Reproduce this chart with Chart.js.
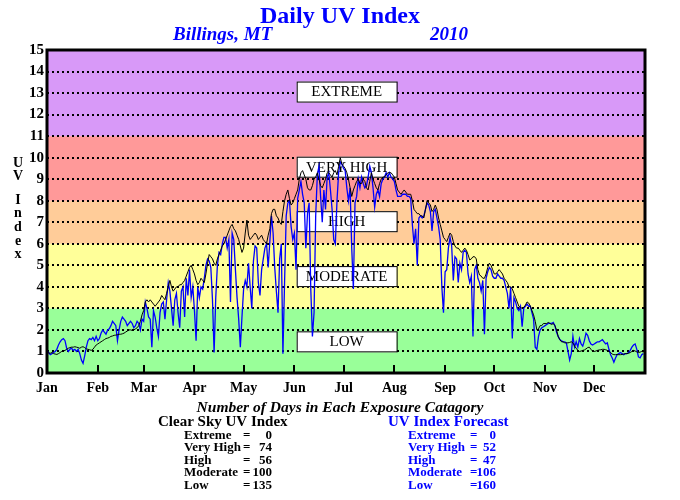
<!DOCTYPE html>
<html>
<head>
<meta charset="utf-8">
<title>Daily UV Index</title>
<script src="https://cdn.jsdelivr.net/npm/chart.js@4.4.1/dist/chart.umd.min.js"></script>
<style>
  html, body { margin: 0; padding: 0; background: #fff; }
  #wrap { width: 680px; height: 500px; }
</style>
</head>
<body>
<div id="wrap"><canvas id="uvChart" width="680" height="500"></canvas></div>
<script>
// month names + day of year where each month starts
const months = ['Jan','Feb','Mar','Apr','May','Jun','Jul','Aug','Sep','Oct','Nov','Dec'];
const monthStarts = [0,31,59,90,120,151,181,212,243,273,304,334];
const yTicks = [0,1,2,3,4,5,6,7,8,9,10,11,12,13,14,15];

// exposure categories (low -> extreme) and their limits on the UV scale
const bandLimits = [0,3,6,8,11,15];
const bandNames = ['LOW','MODERATE','HIGH','VERY HIGH','EXTREME'];

// day counts per category, listed Extreme .. Low as in the table
const countLabels = ['Extreme','Very High','High','Moderate','Low'];
const clearCounts = [0,74,56,100,135];
const forecastCounts = [0,52,47,106,160];

// clear sky UV index, one value per day
const clearSky = [
  // Jan
  0.95,0.93,0.92,0.95,0.9,0.88,0.86,0.9,0.95,1.0,1.02,1.05,1.1,1.15,1.18,1.2,1.2,1.22,1.2,1.18,1.15,1.2,1.22,1.18,1.12,1.1,1.08,1.05,1.1,1.2,1.3,
  // Feb
  1.35,1.4,1.45,1.5,1.55,1.6,1.62,1.65,1.7,1.72,1.75,1.76,1.78,1.8,1.8,1.82,1.85,1.9,1.95,2.0,2.0,1.98,2.0,2.05,2.1,2.2,2.4,2.7,
  // Mar
  2.9,3.3,3.4,3.3,3.4,3.3,3.2,3.1,3.2,3.3,3.4,3.6,3.5,3.4,3.7,4.0,4.3,4.0,3.8,3.9,4.0,4.0,4.1,4.1,4.2,4.3,4.5,4.7,4.9,5.0,4.8,
  // Apr
  4.6,4.3,4.1,4.2,4.4,4.3,4.2,4.6,5.1,5.5,5.4,5.3,5.1,5.0,5.3,5.5,5.7,5.9,6.0,6.2,6.4,6.6,6.8,6.9,6.7,6.6,6.4,6.2,5.9,5.6,
  // May
  5.8,6.5,7.1,6.4,6.2,6.3,6.4,6.5,6.4,6.2,6.3,6.4,6.2,6.1,6.0,6.4,6.7,7.4,7.6,7.6,7.3,7.2,7.0,6.9,7.5,8.0,8.3,8.5,8.1,7.8,7.9,
  // Jun
  8.1,8.3,8.5,9.0,9.3,9.4,9.2,9.0,8.6,8.5,8.5,8.7,9.0,9.1,9.3,9.0,8.7,8.6,8.8,9.0,9.3,9.3,9.2,9.1,9.3,9.4,9.2,9.6,10.0,9.7,
  // Jul
  9.6,9.5,9.3,9.0,8.6,8.2,8.5,8.7,8.9,9.0,8.8,8.8,9.0,8.9,8.6,8.5,8.9,9.3,9.0,8.8,8.6,8.5,8.8,9.0,9.1,9.1,9.2,9.3,9.3,9.3,9.2,
  // Aug
  9.1,8.8,8.5,8.4,8.3,8.4,8.5,8.4,8.3,8.3,8.3,8.0,7.6,7.5,7.4,7.4,7.3,7.3,7.2,7.6,8.0,7.9,7.8,7.5,7.6,7.8,7.6,7.2,6.9,6.6,6.3,
  // Sep
  6.2,6.1,6.3,6.5,6.4,6.1,5.9,5.8,5.8,5.7,5.6,5.7,5.8,5.7,5.5,5.25,5.3,5.4,5.4,5.3,4.8,4.55,4.5,4.4,4.4,4.6,4.9,5.1,5.0,4.8,
  // Oct
  4.6,4.6,4.7,4.8,4.7,4.6,4.4,4.3,4.2,4.0,4.0,3.9,3.7,3.5,3.3,3.1,3.05,3.0,3.05,3.15,3.3,3.25,3.1,2.9,2.7,2.4,2.0,2.05,2.2,2.2,2.3,
  // Nov
  2.3,2.3,2.35,2.3,2.25,2.3,2.2,2.0,1.7,1.55,1.45,1.45,1.4,1.4,1.4,1.42,1.45,1.4,1.25,1.15,1.05,1.0,1.02,1.05,1.07,1.12,1.18,1.2,1.1,1.02,
  // Dec
  1.0,1.02,1.05,1.07,1.08,1.1,1.1,1.08,1.05,1.0,0.95,0.88,0.85,0.85,0.86,0.85,0.85,0.86,0.88,0.9,0.9,0.92,0.95,1.0,1.05,1.02,0.98,0.95,0.97,1.0,0.98
];

// UV index forecast, one value per day
const forecast = [
  // Jan
  1.05,0.95,0.85,0.9,0.95,1.0,1.1,1.3,1.45,1.55,1.6,1.5,1.15,1.0,1.1,1.15,1.05,1.1,1.0,1.1,0.9,0.6,0.45,0.8,1.2,1.5,1.6,1.55,1.65,1.5,1.7,
  // Feb
  1.5,1.6,1.85,2.0,1.9,1.8,2.0,2.05,2.2,2.4,2.3,2.2,1.5,2.0,2.4,2.6,2.5,2.4,2.2,2.3,2.4,2.3,2.1,2.2,2.4,2.3,2.0,2.5,
  // Mar
  2.4,3.3,3.0,2.6,2.5,1.2,2.9,2.6,2.1,1.7,2.8,3.2,3.3,2.5,3.4,4.2,3.8,3.0,2.2,3.4,3.7,2.8,2.1,3.8,4.0,2.6,4.4,3.6,4.8,3.5,4.0,
  // Apr
  2.9,1.5,4.0,3.5,4.0,3.9,4.4,5.0,5.3,5.2,4.9,3.4,0.95,3.5,5.0,5.6,5.5,6.0,6.3,6.3,5.8,6.2,3.3,6.5,6.2,4.8,3.5,2.5,1.2,2.6,
  // May
  3.9,4.3,4.0,5.1,4.0,3.0,5.2,5.9,5.8,4.2,3.6,4.8,5.3,5.8,6.0,4.9,6.1,7.3,6.5,4.9,3.8,2.8,5.3,6.0,0.9,4.2,7.3,7.9,8.0,6.8,6.2,
  // Jun
  6.5,4.8,8.1,8.5,8.9,8.3,7.9,5.8,7.4,7.9,3.9,1.7,2.8,7.3,9.2,9.6,8.2,7.0,8.5,7.6,9.1,9.3,8.5,7.6,6.2,6.0,8.0,9.3,9.8,9.7,
  // Jul
  9.5,9.4,8.6,8.0,8.6,5.8,3.9,7.9,8.2,9.0,8.6,9.1,8.8,8.6,8.7,9.1,9.6,9.3,8.6,7.7,8.3,8.5,8.2,8.8,9.0,9.1,9.3,9.1,9.3,9.1,9.0,
  // Aug
  8.9,8.5,8.2,8.2,8.2,8.3,8.3,8.3,8.2,8.2,8.1,6.9,6.0,6.7,5.0,7.2,7.3,7.2,7.3,7.6,7.9,7.8,7.5,6.6,7.5,7.6,7.2,6.8,6.2,4.0,2.8,
  // Sep
  4.7,4.8,5.8,6.3,5.9,4.3,5.4,5.3,4.2,5.1,4.8,5.6,5.7,5.6,4.6,4.2,4.5,1.7,4.8,5.0,4.4,4.2,3.8,4.3,1.8,4.4,4.7,4.9,4.8,4.5,
  // Oct
  4.4,4.4,4.6,4.5,4.4,4.4,4.3,4.0,3.7,3.0,4.0,1.6,3.5,3.3,3.0,2.9,3.1,2.15,3.0,3.1,3.2,3.1,3.1,2.8,2.5,1.2,1.1,1.7,2.0,2.1,2.15,
  // Nov
  2.2,2.25,2.3,2.3,2.3,2.35,2.2,1.9,1.7,1.55,1.5,1.45,1.45,1.4,1.0,0.6,0.9,1.7,1.2,1.45,1.2,1.6,1.35,1.25,1.5,1.85,1.75,1.5,1.35,1.3,
  // Dec
  1.35,1.4,1.45,1.45,1.5,1.55,1.45,1.35,1.4,1.1,0.85,0.7,0.5,0.7,0.85,0.9,0.95,0.9,0.85,0.9,0.9,0.95,1.05,1.2,1.3,1.35,1.1,0.75,0.7,0.85,0.9
];

const serif = '"Liberation Serif", "Times New Roman", serif';
const bandColors = ['#99ff99','#ffff99','#ffcc99','#ff9999','#d899f8'];

// background bands, dotted grid, labelled boxes, frame and the text round the plot
const uvDecor = {
  id: 'uvDecor',
  beforeDraw(chart) {
    const {ctx, chartArea: a, scales: {y}} = chart;
    ctx.save();
    ctx.fillStyle = '#fff';
    ctx.fillRect(0, 0, chart.width, chart.height);
    for (let i = 0; i < bandColors.length; i++) {
      const top = y.getPixelForValue(bandLimits[i + 1]);
      const bot = y.getPixelForValue(bandLimits[i]);
      ctx.fillStyle = bandColors[i];
      ctx.fillRect(a.left, top, a.right - a.left, bot - top);
    }
    ctx.restore();
  },
  beforeDatasetsDraw(chart) {
    const {ctx, chartArea: a, scales: {x, y}} = chart;
    ctx.save();
    // dotted grid
    ctx.strokeStyle = '#000';
    ctx.lineWidth = 2;
    ctx.setLineDash([2, 3]);
    yTicks.slice(1, -1).forEach(v => {
      const py = Math.round(y.getPixelForValue(v));
      ctx.beginPath();
      ctx.moveTo(a.left, py);
      ctx.lineTo(a.right, py);
      ctx.stroke();
    });
    ctx.setLineDash([]);
    // category boxes
    const centers = [1.47, 4.5, 7.05, 9.58, 13.07];
    const x0 = x.getPixelForValue(152.4), x1 = x.getPixelForValue(213.4);
    ctx.font = '15px ' + serif;
    ctx.textAlign = 'center';
    ctx.textBaseline = 'middle';
    bandNames.forEach((name, i) => {
      const cy = y.getPixelForValue(centers[i]);
      ctx.fillStyle = '#fff';
      ctx.fillRect(x0, cy - 10, x1 - x0, 21);
      ctx.lineWidth = 1;
      ctx.strokeStyle = '#000';
      ctx.strokeRect(x0 + 0.5, cy - 9.5, x1 - x0, 20);
      ctx.fillStyle = '#000';
      ctx.fillText(name, (x0 + x1) / 2, cy + 1);
    });
    ctx.restore();
  },
  afterDraw(chart) {
    const {ctx, chartArea: a, scales: {x}} = chart;
    ctx.save();
    // month ticks inside the plot
    ctx.strokeStyle = '#000';
    ctx.lineWidth = 2;
    monthStarts.slice(1).forEach(d => {
      const px = Math.round(x.getPixelForValue(d));
      ctx.beginPath();
      ctx.moveTo(px, a.bottom);
      ctx.lineTo(px, a.bottom - 8);
      ctx.stroke();
    });
    // frame
    ctx.lineWidth = 3;
    ctx.strokeRect(a.left, a.top, a.right - a.left, a.bottom - a.top);

    // titles
    ctx.fillStyle = '#0000ff';
    ctx.textBaseline = 'middle';
    ctx.textAlign = 'center';
    ctx.font = 'bold 24px ' + serif;
    ctx.fillText('Daily UV Index', 340, 17);
    ctx.font = 'italic bold 19px ' + serif;
    ctx.textAlign = 'left';
    ctx.fillText('Billings, MT', 173, 35);
    ctx.fillText('2010', 430, 35);

    // y axis title, one letter per line
    ctx.fillStyle = '#000';
    ctx.textAlign = 'center';
    ctx.font = 'bold 14px ' + serif;
    const letters = [['U',163],['V',176],['I',200],['n',213],['d',227],['e',241],['x',254]];
    letters.forEach(([c, py]) => ctx.fillText(c, 18, py));

    // table of day counts
    ctx.font = 'italic bold 15.5px ' + serif;
    ctx.fillText('Number of Days in Each Exposure Catagory', 340, 408);
    ctx.font = 'bold 15px ' + serif;
    ctx.textAlign = 'left';
    ctx.fillText('Clear Sky UV Index', 158, 422);
    ctx.fillStyle = '#0000ff';
    ctx.fillText('UV Index Forecast', 388, 422);

    ctx.font = 'bold 13px ' + serif;
    const rowY = [436, 448, 461, 473, 486];
    const drawTable = (counts, lx, ex, vx, color) => {
      ctx.fillStyle = color;
      counts.forEach((n, i) => {
        ctx.textAlign = 'left';
        ctx.fillText(countLabels[i], lx, rowY[i]);
        ctx.fillText('=', ex, rowY[i]);
        ctx.textAlign = 'right';
        ctx.fillText(String(n), vx, rowY[i]);
      });
    };
    drawTable(clearCounts, 184, 243, 272, '#000');
    drawTable(forecastCounts, 408, 470, 496, '#0000ff');
    ctx.restore();
  }
};

new Chart(document.getElementById('uvChart'), {
  type: 'line',
  data: {
    datasets: [
      {
        label: 'Clear Sky UV Index',
        data: clearSky.map((v, i) => ({x: i, y: v})),
        borderColor: '#000',
        borderWidth: 1,
        pointRadius: 0,
        tension: 0,
        order: 1
      },
      {
        label: 'UV Index Forecast',
        data: forecast.map((v, i) => ({x: i, y: v})),
        borderColor: '#0000ff',
        borderWidth: 1.3,
        pointRadius: 0,
        tension: 0,
        order: 2
      }
    ]
  },
  options: {
    responsive: false,
    animation: false,
    devicePixelRatio: 1,
    layout: { padding: { top: 50, right: 35, left: 0, bottom: 0 } },
    plugins: { legend: { display: false }, tooltip: { enabled: false } },
    scales: {
      x: {
        type: 'linear',
        min: 0,
        max: 365,
        afterFit(scale) { scale.height = 127; },
        afterBuildTicks(scale) { scale.ticks = monthStarts.map(v => ({value: v})); },
        grid: { display: false, drawTicks: false, tickLength: 0 },
        border: { display: false },
        ticks: {
          autoSkip: false,
          maxRotation: 0,
          padding: 7,
          color: '#000',
          font: { family: serif, size: 14, weight: 'bold' },
          callback: (v, i) => months[i]
        }
      },
      y: {
        min: 0,
        max: 15,
        afterFit(scale) { scale.width = 47; },
        afterBuildTicks(scale) { scale.ticks = yTicks.map(v => ({value: v})); },
        grid: { display: false, drawTicks: false, tickLength: 0 },
        border: { display: false },
        ticks: {
          autoSkip: false,
          padding: 3,
          color: '#000',
          font: { family: serif, size: 15, weight: 'bold' }
        }
      }
    }
  },
  plugins: [uvDecor]
});
</script>
</body>
</html>
